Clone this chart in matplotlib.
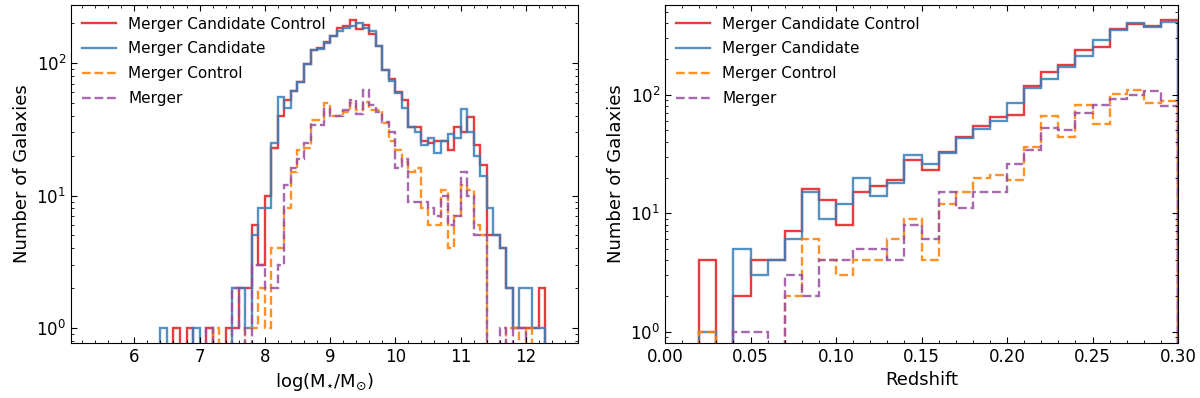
import numpy as np
import matplotlib
matplotlib.use("Agg")
import matplotlib.pyplot as plt
from matplotlib.ticker import MultipleLocator

# ---------------------------------------------------------------
# Data: counts per bin
# stellar mass bins, 0.1 dex wide, starting at 6.4
mass_edges = np.round(np.arange(6.4, 12.31, 0.1), 1)

mass_cand_ctrl = [0, 0, 1, 0, 1, 0,
                  0, 1, 0, 0, 1, 1, 2, 2, 6, 3,
                  10, 23, 40, 53, 62, 72, 99, 125, 130, 145,
                  160, 185, 190, 210, 180, 195, 165, 135, 89, 76,
                  60, 53, 33, 33, 26, 25, 26, 26, 22, 33,
                  30, 39, 24, 17, 5, 5, 4, 2, 1, 1,
                  1, 1, 2]
mass_cand = [1, 0, 0, 0, 0, 1,
             0, 0, 0, 0, 0, 2, 2, 1, 5, 8,
             8, 25, 55, 46, 62, 72, 99, 125, 128, 141,
             160, 175, 185, 190, 200, 185, 175, 135, 89, 73,
             59, 46, 33, 30, 24, 27, 21, 26, 29, 27,
             45, 30, 20, 14, 8, 5, 4, 2, 1, 2,
             2, 1, 1]
mass_merg_ctrl = [0, 0, 0, 0, 0, 0,
                  0, 0, 1, 0, 0, 0, 0, 1, 1, 2,
                  1, 4, 4, 8, 15, 22, 23, 37, 37, 50,
                  40, 40, 43, 50, 44, 51, 44, 44, 35, 26,
                  22, 18, 15, 16, 8, 6, 6, 11, 4, 7,
                  12, 11, 6, 5, 0, 0, 0, 1, 1, 0,
                  1, 0, 0]
mass_merg = [0, 0, 0, 0, 0, 0,
             0, 1, 0, 0, 0, 2, 1, 0, 3, 3,
             2, 2, 3, 12, 16, 19, 25, 34, 34, 45,
             40, 40, 44, 53, 41, 63, 48, 43, 36, 30,
             16, 19, 9, 9, 9, 8, 7, 10, 6, 7,
             15, 10, 5, 5, 0, 0, 1, 0, 1, 1,
             0, 0, 0]

# redshift bins, 0.01 wide
z_edges = np.round(np.arange(0.0, 0.301, 0.01), 2)

z_cand_ctrl = [0, 0, 4, 0, 2, 4, 4, 7, 16, 13,
               8, 15, 17, 19, 28, 23, 33, 44, 54, 65,
               68, 119, 157, 179, 241, 254, 360, 397, 384, 432]
z_cand = [0, 0, 1, 0, 5, 3, 4, 6, 15, 9,
          12, 20, 14, 18, 31, 26, 32, 43, 51, 60,
          86, 114, 136, 170, 211, 288, 350, 400, 372, 410]
z_merg_ctrl = [0, 0, 1, 0, 0, 0, 0, 2, 6, 4,
               3, 4, 4, 6, 9, 4, 12, 15, 20, 21,
               19, 36, 66, 44, 82, 57, 101, 110, 85, 88]
z_merg = [0, 0, 0, 0, 1, 1, 0, 3, 2, 4,
          4, 5, 5, 4, 8, 6, 15, 11, 15, 15,
          26, 34, 52, 50, 70, 82, 92, 100, 108, 81]

labels = ['Merger Candidate Control', 'Merger Candidate', 'Merger Control', 'Merger']
colors = ['#e41a1c', '#377eb8', '#ff7f00', '#984ea3']
styles = ['-', '-', '--', '--']


def draw_panel(ax, edges, series):
    for vals, lab, col, ls in zip(series, labels, colors, styles):
        ax.stairs(vals, edges, baseline=0, color=col, linestyle=ls,
                  linewidth=1.7, alpha=0.85, label=lab)
    ax.set_yscale('log')
    ax.set_ylabel('Number of Galaxies', fontsize=13)
    ax.tick_params(which='both', direction='in', top=True, right=True, labelsize=12)
    ax.tick_params(which='major', length=4)
    ax.tick_params(which='minor', length=2)
    ax.legend(loc='upper left', frameon=False, fontsize=11, handlelength=2.2,
              labelspacing=0.65, borderaxespad=0.35)


fig = plt.figure(figsize=(12, 3.98), dpi=100)
ax1 = fig.add_axes([0.0592, 0.1382, 0.4225, 0.849])
ax2 = fig.add_axes([0.5542, 0.1382, 0.4275, 0.849])

draw_panel(ax1, mass_edges, [mass_cand_ctrl, mass_cand, mass_merg_ctrl, mass_merg])
ax1.set_xlim(5.03, 12.8)
ax1.set_ylim(0.77, 274)
ax1.xaxis.set_major_locator(MultipleLocator(1))
ax1.xaxis.set_minor_locator(MultipleLocator(0.2))
ax1.set_xlabel(r'log(M$_{\star}$/M$_{\odot}$)', fontsize=13)

draw_panel(ax2, z_edges, [z_cand_ctrl, z_cand, z_merg_ctrl, z_merg])
ax2.set_xlim(0.0, 0.30)
ax2.set_ylim(0.80, 572)
ax2.xaxis.set_major_locator(MultipleLocator(0.05))
ax2.xaxis.set_minor_locator(MultipleLocator(0.01))
ax2.set_xlabel('Redshift', fontsize=13)

fig.savefig('out.png', dpi=100)
